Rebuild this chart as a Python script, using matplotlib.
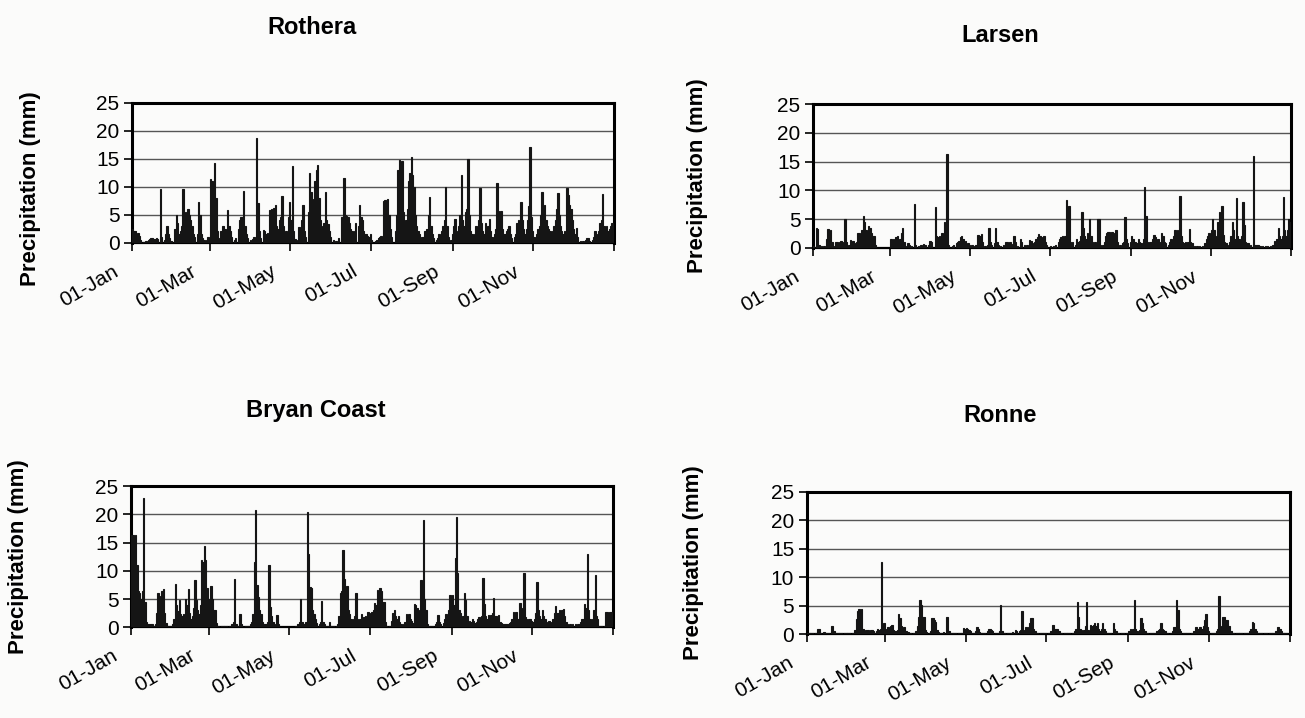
import numpy as np
import matplotlib.pyplot as plt

plt.rcParams['font.family'] = ['Liberation Sans', 'DejaVu Sans']

# daily precipitation (mm), (day of year from 01-Jan, value); days not listed are 0
rothera = [
    (0, 2.5), (1, 2.0), (2, 2.0), (3, 1.5), (4, 1.8), (5, 1.2), (6, 0.5), (8, 0.2), (10, 0.3),
    (12, 0.5), (13, 0.6), (14, 0.8), (15, 0.8), (16, 0.6), (17, 0.7), (18, 0.8), (19, 0.6),
    (21, 9.6), (22, 1.0), (24, 0.5), (25, 1.5), (26, 3.0), (27, 1.5), (28, 0.8), (29, 0.3),
    (32, 2.5), (33, 5.0), (34, 3.5), (35, 1.5), (36, 2.0), (37, 3.0), (38, 9.6), (39, 5.5),
    (40, 5.0), (41, 5.5), (42, 6.0), (43, 5.0), (44, 4.0), (45, 3.0), (46, 1.5), (47, 1.0),
    (49, 1.5), (50, 7.2), (51, 5.0), (52, 1.5), (53, 0.8), (54, 0.4), (56, 0.5), (57, 1.0),
    (59, 11.4), (60, 11.0), (61, 3.0), (62, 14.2), (63, 8.0), (64, 2.0), (65, 0.8),
    (67, 2.0), (68, 3.0), (69, 3.0), (70, 2.5), (71, 1.5), (72, 5.8), (73, 3.0), (74, 2.0),
    (75, 1.0), (77, 0.5), (78, 0.8), (80, 2.5), (81, 4.0), (82, 4.5), (83, 4.5), (84, 9.3),
    (85, 3.0), (86, 1.5), (87, 0.8), (89, 0.4), (91, 0.6), (92, 1.0), (94, 18.6), (95, 7.0),
    (96, 2.0), (97, 0.8), (99, 2.3), (100, 2.0), (101, 1.5), (102, 1.8), (104, 5.8), (105, 6.0),
    (106, 4.5), (107, 6.2), (108, 6.7), (109, 3.0), (110, 2.5), (111, 4.0), (112, 4.5),
    (113, 8.4), (114, 3.0), (115, 1.5), (116, 2.0), (118, 4.5), (119, 7.2), (120, 4.0),
    (121, 13.7), (122, 2.0), (123, 0.6), (125, 0.5), (126, 2.8), (127, 2.5), (128, 4.0),
    (129, 6.8), (130, 2.0), (131, 1.0), (133, 5.5), (134, 12.4), (135, 9.0), (136, 6.0),
    (137, 7.8), (138, 11.0), (139, 13.0), (140, 13.8), (141, 8.0), (142, 4.0), (143, 3.0),
    (144, 2.5), (145, 3.5), (146, 9.1), (147, 4.0), (148, 3.3), (149, 2.0), (150, 1.0),
    (152, 0.5), (154, 0.3), (156, 0.8), (158, 4.5), (159, 4.5), (160, 11.6), (161, 5.0),
    (162, 4.8), (163, 4.5), (164, 3.5), (165, 2.5), (166, 2.0), (167, 1.5), (168, 2.0),
    (169, 3.5), (171, 3.0), (172, 6.8), (173, 4.6), (174, 4.0), (175, 2.0), (176, 1.5),
    (177, 1.5), (178, 1.2), (179, 1.0), (180, 1.5), (181, 0.5), (184, 0.3), (185, 0.5),
    (186, 0.8), (187, 1.0), (188, 1.2), (190, 7.5), (191, 7.6), (192, 7.4), (193, 7.8),
    (194, 5.0), (195, 2.5), (196, 1.0), (199, 2.0), (200, 5.0), (201, 13.0), (202, 14.8),
    (203, 11.0), (204, 14.5), (205, 5.5), (206, 3.0), (207, 4.0), (208, 6.0), (209, 11.0),
    (210, 12.5), (211, 15.2), (212, 12.0), (213, 10.0), (214, 5.0), (215, 3.0), (216, 2.0),
    (217, 1.5), (219, 1.0), (220, 1.0), (221, 2.0), (222, 2.0), (223, 2.5), (224, 5.0),
    (225, 8.2), (226, 3.0), (227, 1.5), (228, 0.8), (230, 0.5), (231, 0.8), (232, 1.5),
    (233, 1.0), (234, 2.0), (235, 3.0), (236, 4.0), (237, 10.0), (238, 3.0), (239, 1.0),
    (241, 0.5), (242, 1.5), (243, 3.0), (244, 4.2), (245, 2.0), (246, 1.5), (247, 3.0),
    (248, 5.0), (249, 12.0), (250, 4.0), (251, 3.0), (252, 5.5), (253, 6.0), (254, 14.9),
    (255, 5.0), (256, 2.0), (257, 1.5), (259, 1.5), (260, 3.0), (261, 2.0), (262, 4.0),
    (263, 9.7), (264, 3.5), (265, 2.0), (266, 1.5), (267, 3.5), (268, 2.5), (269, 3.0),
    (270, 4.3), (271, 2.0), (272, 1.0), (274, 1.5), (275, 2.5), (276, 10.6), (277, 5.6),
    (278, 3.5), (279, 5.6), (280, 2.5), (281, 1.5), (282, 1.5), (283, 2.0), (284, 2.5),
    (285, 3.0), (286, 1.5), (287, 0.8), (289, 1.0), (290, 1.5), (291, 3.5), (292, 4.0),
    (293, 3.0), (294, 7.2), (295, 4.0), (296, 2.5), (297, 1.5), (298, 2.5), (299, 4.0),
    (300, 6.5), (301, 17.0), (302, 4.5), (303, 2.0), (304, 1.0), (306, 1.5), (307, 2.5),
    (308, 3.0), (309, 5.0), (310, 9.1), (311, 6.0), (312, 6.7), (313, 4.0), (314, 3.0),
    (315, 2.5), (316, 2.0), (317, 1.5), (318, 2.0), (319, 3.0), (320, 4.0), (321, 6.0),
    (322, 8.8), (323, 5.0), (324, 3.0), (325, 2.0), (326, 1.5), (327, 2.0), (329, 9.8),
    (330, 8.5), (331, 6.7), (332, 6.0), (333, 4.0), (334, 2.5), (335, 1.5), (336, 2.7),
    (337, 1.0), (339, 0.3), (341, 0.3), (343, 0.5), (344, 0.9), (345, 0.9), (346, 0.3),
    (348, 0.5), (349, 1.0), (350, 2.1), (351, 1.5), (353, 2.0), (354, 3.5), (355, 4.0),
    (356, 8.6), (357, 3.0), (358, 2.5), (359, 3.0), (360, 2.0), (361, 2.5), (362, 3.0),
    (363, 3.5), (364, 3.5),
]

larsen = [
    (0, 0.3), (2, 3.5), (3, 3.3), (4, 0.5), (6, 0.3), (8, 0.3), (10, 1.5), (11, 3.2), (12, 1.2),
    (13, 3.0), (14, 1.0), (16, 0.3), (17, 1.0), (18, 1.0), (19, 0.8), (20, 1.0), (21, 1.2),
    (22, 1.0), (24, 5.0), (25, 1.0), (27, 0.5), (28, 1.3), (29, 1.0), (30, 1.2), (31, 0.8),
    (33, 1.0), (34, 2.5), (35, 2.5), (36, 2.2), (37, 3.0), (38, 5.6), (39, 4.5), (40, 3.0),
    (41, 2.5), (42, 3.8), (43, 3.5), (44, 2.5), (45, 2.0), (46, 2.0), (47, 0.5),
    (59, 1.5), (60, 1.3), (61, 1.5), (62, 1.0), (63, 1.8), (64, 2.0), (65, 1.0), (66, 1.5),
    (67, 2.5), (68, 3.5), (69, 1.0), (70, 0.3), (72, 0.8), (73, 0.5), (75, 0.3), (77, 7.7),
    (78, 0.5), (80, 0.3), (82, 0.5), (84, 0.7), (85, 0.5), (88, 0.5), (89, 1.2), (90, 1.0),
    (93, 7.1), (94, 2.0), (95, 1.8), (96, 2.0), (97, 1.5), (98, 2.5), (99, 1.8), (100, 4.5),
    (101, 2.5), (102, 16.3), (103, 0.5), (106, 0.3), (107, 0.5), (109, 0.8), (110, 1.0),
    (111, 1.2), (112, 1.8), (113, 2.0), (114, 1.5), (115, 1.0), (116, 1.2), (117, 0.5),
    (118, 0.8), (119, 0.5), (121, 0.4), (123, 0.3), (124, 0.5), (125, 2.2), (126, 2.3),
    (127, 2.0), (128, 2.4), (129, 1.0), (131, 0.3), (133, 0.5), (134, 3.4), (135, 1.0),
    (136, 0.5), (138, 0.8), (139, 3.4), (140, 1.0), (141, 0.5), (143, 0.3), (145, 0.5),
    (147, 1.0), (148, 1.0), (149, 0.8), (150, 1.0), (151, 0.6), (153, 2.0), (154, 1.0),
    (156, 0.3), (158, 1.5), (159, 1.0), (161, 0.5), (163, 0.5), (165, 1.3), (166, 1.2),
    (167, 0.8), (169, 1.0), (170, 1.5), (171, 1.8), (172, 2.4), (173, 2.0), (174, 1.8),
    (175, 1.5), (176, 2.0), (177, 1.0), (178, 0.5), (181, 0.3), (183, 0.3), (185, 0.5),
    (187, 1.0), (188, 1.5), (189, 1.8), (190, 2.0), (191, 1.5), (192, 2.0), (193, 8.3),
    (194, 3.0), (195, 7.2), (196, 1.0), (197, 0.8), (198, 1.0), (200, 0.5), (201, 1.5),
    (202, 1.0), (203, 1.2), (204, 2.0), (205, 6.3), (206, 3.5), (207, 2.0), (208, 1.5),
    (209, 2.5), (210, 1.0), (211, 5.0), (212, 2.0), (213, 1.0), (215, 1.0), (216, 0.5),
    (217, 5.0), (218, 5.0), (219, 0.5), (221, 0.5), (222, 1.0), (223, 2.0), (224, 2.5),
    (225, 2.8), (226, 2.8), (227, 2.5), (228, 2.8), (229, 2.0), (230, 2.5), (231, 3.0),
    (232, 1.0), (234, 0.5), (236, 0.8), (237, 1.0), (238, 5.3), (239, 1.5), (240, 0.8),
    (242, 1.0), (243, 2.0), (244, 1.5), (245, 1.0), (246, 1.0), (247, 0.8), (248, 1.5),
    (249, 1.0), (250, 0.8), (252, 1.5), (253, 10.6), (254, 5.5), (255, 1.0), (256, 0.8),
    (257, 1.0), (258, 1.0), (259, 1.5), (260, 2.3), (261, 1.8), (262, 1.0), (263, 1.5),
    (264, 1.0), (265, 0.8), (266, 2.5), (267, 2.0), (268, 1.0), (269, 0.8), (271, 0.5),
    (272, 1.0), (273, 1.5), (274, 1.0), (275, 2.0), (276, 3.0), (277, 2.5), (278, 3.0),
    (279, 2.0), (280, 9.0), (281, 2.0), (282, 1.0), (283, 0.8), (284, 1.0), (286, 1.0),
    (287, 3.3), (288, 1.0), (289, 0.8), (291, 0.3), (293, 0.3), (295, 0.3), (297, 0.3),
    (299, 0.8), (300, 1.5), (301, 2.0), (302, 2.5), (303, 1.5), (304, 3.0), (305, 5.0),
    (306, 3.0), (307, 1.0), (308, 2.0), (309, 4.5), (310, 6.3), (311, 5.0), (312, 7.3),
    (313, 2.2), (314, 1.0), (315, 0.8), (317, 0.5), (318, 1.0), (319, 2.0), (320, 4.4),
    (321, 3.0), (322, 1.5), (323, 8.7), (324, 2.0), (325, 1.5), (326, 1.0), (327, 2.0),
    (328, 7.9), (329, 4.0), (330, 1.0), (331, 0.8), (332, 0.8), (334, 0.5), (336, 16.0),
    (337, 0.5), (338, 0.5), (339, 0.5), (340, 0.5), (341, 0.3), (343, 0.3), (345, 0.3),
    (347, 0.3), (349, 0.3), (351, 0.5), (352, 1.2), (353, 1.0), (354, 1.5), (355, 3.5),
    (356, 2.0), (357, 1.5), (358, 2.0), (359, 8.8), (360, 3.0), (361, 2.0), (362, 3.0),
    (363, 5.0), (364, 4.5),
]

bryan_coast = [
    (0, 16.3), (1, 16.3), (2, 16.0), (3, 16.3), (4, 11.0), (5, 6.5), (6, 6.0), (7, 5.0),
    (8, 6.5), (9, 22.9), (10, 4.5), (11, 1.0), (12, 0.5), (13, 0.5), (14, 0.5), (15, 0.6),
    (16, 0.5), (17, 0.3), (18, 0.5), (19, 2.5), (20, 6.0), (21, 2.5), (22, 5.5), (23, 6.5),
    (24, 6.7), (25, 2.5), (26, 0.8), (27, 0.3), (29, 0.3), (31, 0.5), (32, 1.5), (33, 7.6),
    (34, 4.0), (35, 2.8), (36, 4.8), (37, 2.4), (38, 2.0), (39, 2.4), (40, 2.0), (41, 5.0),
    (42, 4.0), (43, 6.8), (44, 2.5), (45, 1.5), (46, 2.0), (47, 3.5), (48, 8.3), (49, 4.8),
    (50, 3.0), (51, 2.4), (52, 4.0), (53, 11.9), (54, 11.5), (55, 14.4), (56, 11.9),
    (57, 7.0), (58, 5.0), (59, 3.0), (60, 7.3), (61, 5.0), (62, 3.0), (63, 3.0), (64, 0.8),
    (66, 0.2), (68, 0.2), (70, 0.2), (72, 0.2), (74, 0.3), (76, 0.5), (77, 1.0), (78, 8.6),
    (79, 0.5), (80, 0.3), (82, 2.4), (83, 0.5), (86, 0.2), (88, 0.3), (90, 0.5), (91, 1.0),
    (92, 2.4), (93, 11.6), (94, 20.7), (95, 7.4), (96, 5.4), (97, 3.0), (98, 2.4), (99, 1.0),
    (100, 0.5), (101, 0.5), (102, 0.5), (103, 1.0), (104, 11.0), (105, 3.6), (106, 2.0),
    (107, 1.0), (108, 0.5), (110, 2.1), (111, 0.5), (113, 0.1), (115, 0.1), (118, 0.1),
    (121, 0.1), (124, 0.3), (126, 0.5), (127, 1.0), (128, 5.0), (129, 1.0), (130, 0.5),
    (131, 0.5), (132, 1.0), (133, 20.4), (134, 13.0), (135, 7.1), (136, 7.0), (137, 3.0),
    (138, 2.4), (139, 1.5), (140, 0.8), (142, 0.5), (143, 1.0), (144, 4.6), (145, 1.0),
    (146, 0.5), (148, 0.3), (150, 0.9), (151, 0.3), (153, 0.3), (155, 0.3), (156, 0.5),
    (157, 2.0), (158, 6.0), (159, 6.5), (160, 13.7), (161, 8.5), (162, 6.0), (163, 7.3),
    (164, 3.0), (165, 2.4), (166, 1.5), (167, 0.8), (168, 1.5), (169, 2.0), (170, 6.1),
    (171, 1.5), (172, 1.0), (173, 1.5), (174, 2.4), (175, 1.5), (176, 1.9), (177, 2.0),
    (178, 1.5), (179, 2.7), (180, 1.5), (181, 2.5), (182, 2.7), (183, 3.0), (184, 4.3),
    (185, 4.0), (186, 6.6), (187, 6.0), (188, 7.0), (189, 6.5), (190, 4.5), (191, 4.5),
    (192, 1.0), (193, 0.3), (195, 0.3), (197, 1.2), (198, 2.5), (199, 3.1), (200, 2.0),
    (201, 1.5), (202, 2.0), (203, 1.0), (204, 0.5), (206, 0.5), (207, 1.0), (208, 2.4),
    (209, 2.0), (210, 2.4), (211, 1.5), (212, 1.2), (213, 0.8), (214, 4.2), (215, 4.0),
    (216, 3.5), (217, 2.0), (218, 3.0), (219, 8.4), (220, 5.0), (221, 18.9), (222, 5.0),
    (223, 3.0), (224, 0.5), (226, 0.3), (228, 0.3), (230, 0.5), (231, 1.0), (232, 2.1),
    (233, 1.0), (234, 0.6), (236, 0.8), (237, 1.5), (238, 2.4), (239, 2.0), (240, 3.0),
    (241, 5.8), (242, 5.5), (243, 5.8), (244, 4.0), (245, 12.3), (246, 19.6), (247, 9.6),
    (248, 3.0), (249, 2.5), (250, 1.5), (251, 2.0), (252, 6.1), (253, 4.8), (254, 2.0),
    (255, 1.0), (256, 1.2), (257, 1.0), (258, 1.5), (259, 1.2), (260, 0.8), (261, 1.0),
    (262, 1.5), (263, 1.8), (264, 1.0), (265, 2.0), (266, 8.8), (267, 4.2), (268, 2.0),
    (269, 1.5), (270, 2.1), (271, 1.5), (272, 2.1), (273, 2.5), (274, 5.1), (275, 2.0),
    (276, 2.0), (277, 1.5), (278, 2.1), (279, 1.0), (280, 0.8), (281, 0.6), (282, 0.6),
    (283, 0.5), (284, 0.6), (285, 0.5), (286, 0.8), (287, 1.0), (288, 1.5), (289, 2.7),
    (290, 2.5), (291, 2.7), (292, 1.5), (293, 1.5), (294, 4.3), (295, 3.5), (296, 2.0),
    (297, 9.6), (298, 1.8), (299, 1.5), (300, 1.0), (301, 1.5), (302, 1.5), (303, 1.2),
    (304, 1.0), (305, 1.5), (306, 2.5), (307, 8.0), (308, 3.0), (309, 2.0), (310, 1.5),
    (311, 3.1), (312, 2.0), (313, 1.5), (314, 1.0), (315, 0.8), (316, 1.2), (317, 1.0),
    (318, 0.8), (319, 1.5), (320, 2.5), (321, 3.8), (322, 2.5), (323, 2.5), (324, 3.0),
    (325, 2.0), (326, 3.0), (327, 3.2), (328, 2.0), (329, 1.0), (330, 0.6), (332, 0.6),
    (334, 0.6), (336, 0.5), (338, 0.6), (339, 0.5), (340, 1.0), (341, 1.5), (342, 1.5),
    (343, 4.1), (344, 3.5), (345, 12.9), (346, 3.0), (347, 1.5), (348, 1.0), (349, 1.5),
    (350, 3.0), (351, 9.2), (352, 2.0), (353, 1.5), (354, 0.3), (356, 0.2), (358, 0.3),
    (359, 2.7), (360, 2.7), (361, 2.5), (362, 2.7), (363, 2.7), (364, 2.5),
]

ronne = [
    (0, 0.2), (2, 0.2), (4, 0.3), (6, 0.3), (8, 0.9), (9, 0.9), (10, 0.3), (12, 0.4), (13, 0.4),
    (14, 0.3), (16, 0.3), (18, 1.5), (19, 1.5), (20, 0.5), (22, 0.2), (24, 0.2), (26, 0.2),
    (28, 0.2), (30, 0.2), (32, 0.2), (34, 0.3), (36, 0.7), (37, 2.6), (38, 4.0), (39, 4.4),
    (40, 4.2), (41, 4.4), (42, 1.0), (43, 0.5), (44, 0.7), (45, 0.7), (46, 0.7), (47, 0.6),
    (48, 0.7), (49, 0.7), (50, 0.5), (51, 0.3), (52, 0.5), (53, 1.0), (54, 0.8), (55, 1.0),
    (56, 12.6), (57, 1.0), (58, 1.9), (59, 1.0), (60, 0.6), (61, 1.3), (62, 0.8), (63, 1.5),
    (64, 1.6), (65, 0.8), (66, 0.5), (67, 0.5), (68, 0.8), (69, 3.5), (70, 2.8), (71, 1.5),
    (72, 1.0), (73, 1.3), (74, 0.6), (75, 0.6), (76, 0.4), (78, 0.3), (80, 0.3), (82, 0.5),
    (83, 1.5), (84, 3.1), (85, 6.0), (86, 5.1), (87, 3.1), (88, 3.0), (89, 0.8), (90, 0.4),
    (92, 0.3), (93, 0.5), (94, 2.8), (95, 2.8), (96, 2.5), (97, 2.2), (98, 0.8), (99, 0.4),
    (101, 0.3), (103, 0.4), (105, 3.1), (106, 3.0), (107, 0.5), (108, 0.3), (110, 0.2),
    (112, 0.2), (114, 0.2), (116, 0.3), (118, 1.1), (119, 1.0), (120, 1.1), (121, 1.0),
    (122, 0.8), (123, 0.5), (125, 0.3), (127, 0.5), (128, 1.3), (129, 1.0), (130, 0.4),
    (132, 0.3), (134, 0.3), (136, 0.5), (137, 1.0), (138, 1.0), (139, 0.8), (140, 0.5),
    (142, 0.3), (144, 0.3), (145, 0.5), (146, 5.2), (147, 0.5), (149, 0.3), (151, 0.3),
    (153, 0.3), (155, 0.4), (157, 0.7), (158, 0.5), (160, 0.5), (161, 0.8), (162, 4.1),
    (163, 0.8), (164, 0.6), (165, 1.3), (166, 1.0), (167, 1.2), (168, 2.0), (169, 2.9),
    (170, 2.9), (171, 1.0), (172, 0.5), (174, 0.3), (176, 0.3), (178, 0.3), (180, 0.3),
    (182, 0.3), (184, 0.5), (185, 1.6), (186, 1.6), (187, 1.0), (188, 0.9), (189, 0.9),
    (190, 0.5), (192, 0.3), (194, 0.3), (196, 0.3), (198, 0.3), (200, 0.3), (202, 0.5),
    (203, 1.0), (204, 5.6), (205, 3.0), (206, 1.0), (207, 0.8), (208, 0.5), (209, 0.8),
    (210, 1.5), (211, 5.6), (212, 0.8), (213, 0.5), (214, 1.7), (215, 1.5), (216, 1.7),
    (217, 1.9), (218, 1.5), (219, 1.9), (220, 1.0), (221, 0.5), (222, 1.0), (223, 1.9),
    (224, 1.0), (225, 0.5), (227, 0.3), (229, 0.3), (231, 1.9), (232, 1.0), (233, 0.5),
    (235, 0.3), (237, 0.3), (239, 0.3), (241, 0.3), (243, 0.5), (244, 1.0), (245, 0.8),
    (246, 1.0), (247, 6.0), (248, 1.0), (249, 0.5), (251, 0.8), (252, 2.9), (253, 2.0),
    (254, 1.0), (255, 0.5), (257, 0.3), (259, 0.3), (261, 0.3), (263, 0.3), (264, 0.5),
    (265, 0.8), (266, 1.0), (267, 1.9), (268, 1.0), (269, 0.8), (270, 0.5), (272, 0.3),
    (274, 0.3), (276, 0.5), (277, 1.3), (278, 1.3), (279, 6.1), (280, 4.2), (281, 1.0),
    (282, 0.5), (284, 0.3), (286, 0.3), (288, 0.3), (290, 0.3), (292, 0.5), (293, 1.3),
    (294, 1.3), (295, 1.0), (296, 1.3), (297, 1.3), (298, 1.0), (299, 1.5), (300, 2.5),
    (301, 3.5), (302, 1.3), (303, 0.5), (305, 0.3), (307, 0.3), (309, 0.5), (310, 1.0),
    (311, 6.7), (312, 1.0), (313, 1.5), (314, 3.1), (315, 3.0), (316, 2.5), (317, 2.5),
    (318, 1.5), (319, 1.5), (320, 0.5), (322, 0.3), (324, 0.3), (326, 0.3), (328, 0.3),
    (330, 0.3), (332, 0.3), (334, 0.5), (335, 1.0), (336, 2.2), (337, 2.0), (338, 1.0),
    (339, 0.5), (341, 0.3), (343, 0.2), (345, 0.2), (347, 0.2), (349, 0.2), (351, 0.2),
    (353, 0.3), (354, 0.5), (355, 1.3), (356, 1.3), (357, 1.0), (358, 0.5), (360, 0.3),
    (362, 0.3), (364, 0.3),
]

tick_days = [0, 59, 120, 181, 243, 304, 365]
tick_labels = ['01-Jan', '01-Mar', '01-May', '01-Jul', '01-Sep', '01-Nov', '']

W, H = 1305, 718
BG = '#fbfbfa'

# name, data, plot box (left, top, right, bottom px), title xy, ylabel xy
panels = [
    ('Rothera', rothera, (132, 102.5, 614, 242.7), (312, 27), (31, 189)),
    ('Larsen', larsen, (813, 104.3, 1290.7, 247.7), (1000, 35), (697, 176)),
    ('Bryan Coast', bryan_coast, (131, 486, 613, 627.3), (316, 410), (19, 557)),
    ('Ronne', ronne, (806.7, 491.7, 1290, 634.3), (1000, 416), (694, 563)),
]

fig = plt.figure(figsize=(W / 100, H / 100), dpi=100, facecolor=BG)

for name, data, (l, t, r, b), (tx, ty), (lx, ly) in panels:
    ax = fig.add_axes([l / W, 1 - b / H, (r - l) / W, (b - t) / H])
    ax.set_facecolor(BG)
    days = np.array([d for d, v in data])
    mm = np.array([v for d, v in data])
    ax.bar(days, mm, width=1.0, align='edge', color='#151515',
           edgecolor='#151515', linewidth=0.8, zorder=3)

    ax.set_xlim(0, 365)
    ax.set_ylim(0, 25)
    ax.set_yticks([0, 5, 10, 15, 20, 25])
    ax.set_xticks(tick_days)
    ax.set_xticklabels([])
    # rotated date labels, ending a little left of and below each tick
    for d, lab in zip(tick_days, tick_labels):
        ax.annotate(lab, xy=(d, 0), xycoords=('data', 'axes fraction'),
                    xytext=(-20, -19), textcoords='offset pixels',
                    rotation=30, rotation_mode='anchor', ha='right', va='top',
                    fontsize=15, annotation_clip=False)
    ax.tick_params(axis='y', labelsize=15, length=6, width=1.2, pad=3)
    ax.tick_params(axis='x', length=6, width=1.2)
    for s in ['top', 'left', 'right']:
        ax.spines[s].set_linewidth(2.2)
    ax.spines['bottom'].set_linewidth(1.6)
    ax.yaxis.grid(True, color='#555555', linewidth=1.0)
    ax.set_axisbelow(True)

    fig.text(tx / W, 1 - ty / H, name, fontsize=17, fontweight='bold',
             ha='center', va='center')
    fig.text(lx / W, 1 - ly / H, 'Precipitation (mm)', fontsize=16,
             fontweight='bold', rotation=90, ha='center', va='center')

fig.savefig('out.png', dpi=100, facecolor=BG)
